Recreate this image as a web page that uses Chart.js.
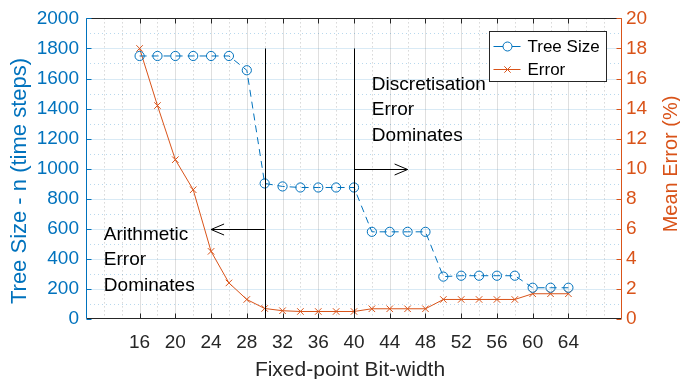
<!doctype html>
<html>
<head>
<meta charset="utf-8">
<title>Tree Size and Error vs Fixed-point Bit-width</title>
<script src="https://cdn.jsdelivr.net/npm/chart.js"></script>
<style>
  body { margin: 0; background: #fff; }
  #wrap { width: 680px; height: 379px; }
</style>
</head>
<body>
<div id="wrap"><canvas id="bitChart"></canvas></div>
<script>
// values
const bitWidths = [16, 18, 20, 22, 24, 26, 28, 30, 32, 34, 36, 38, 40, 42, 44, 46, 48, 50, 52, 54, 56, 58, 60, 62, 64];
const treeSize  = [1750, 1750, 1750, 1750, 1750, 1750, 1655, 902, 882, 875, 875, 875, 875, 580, 580, 580, 580, 282, 288, 288, 288, 288, 208, 208, 208];
const meanError = [18.0, 14.2, 10.6, 8.6, 4.5, 2.4, 1.3, 0.7, 0.55, 0.5, 0.5, 0.5, 0.5, 0.68, 0.68, 0.68, 0.68, 1.3, 1.3, 1.3, 1.3, 1.3, 1.68, 1.68, 1.68];
const xTickLabels = [16, 20, 24, 28, 32, 36, 40, 44, 48, 52, 56, 60, 64];

// annotation: divider lines, arrows and notes (x in bits, y in tree size units)
const dividerBits = [30, 40];
const dividerTop = 1800;
const arrowFrom = [30, 40];
const arrowTo = [24, 46];
const arrowLevel = [600, 1000];
const noteLines = [['Arithmetic', 'Error', 'Dominates'], ['Discretisation', 'Error', 'Dominates']];
const noteBit = [12, 42];
const noteLevel = [400, 1400];

const BLUE = '#0072BD';
const ORANGE = '#D95319';
const INK = '#262626';
const FONT = '"Liberation Sans", Arial, Helvetica, sans-serif';

function pts(ys) {
    return bitWidths.map((b, i) => ({ x: b, y: ys[i] }));
}

// grid, box, inward ticks, titles, notes and legend, MATLAB style
const matlabLook = {
    id: 'matlabLook',
    beforeDatasetsDraw(chart) {
        const { ctx, chartArea: a, scales } = chart;
        const x = scales.x, y = scales.y;
        ctx.save();
        ctx.lineWidth = 1;
        // minor grid, dotted
        ctx.setLineDash([1, 3]);
        ctx.strokeStyle = 'rgba(38,38,38,0.28)';
        for (let b = 12; b <= 68; b += 2) {
            if (xTickLabels.includes(b)) continue;
            const px = Math.round(x.getPixelForValue(b)) + 0.5;
            ctx.beginPath(); ctx.moveTo(px, a.top); ctx.lineTo(px, a.bottom); ctx.stroke();
        }
        ctx.strokeStyle = 'rgba(0,114,189,0.28)';
        for (let v = 100; v < 2000; v += 200) {
            const py = Math.round(y.getPixelForValue(v)) + 0.5;
            ctx.beginPath(); ctx.moveTo(a.left, py); ctx.lineTo(a.right, py); ctx.stroke();
        }
        // major grid
        ctx.setLineDash([]);
        ctx.strokeStyle = 'rgba(38,38,38,0.15)';
        xTickLabels.forEach(b => {
            const px = Math.round(x.getPixelForValue(b)) + 0.5;
            ctx.beginPath(); ctx.moveTo(px, a.top); ctx.lineTo(px, a.bottom); ctx.stroke();
        });
        ctx.strokeStyle = 'rgba(0,114,189,0.15)';
        for (let v = 200; v < 2000; v += 200) {
            const py = Math.round(y.getPixelForValue(v)) + 0.5;
            ctx.beginPath(); ctx.moveTo(a.left, py); ctx.lineTo(a.right, py); ctx.stroke();
        }
        ctx.restore();
    },
    afterDatasetsDraw(chart) {
        const { ctx, scales } = chart;
        const x = scales.x, y = scales.y;
        ctx.save();
        ctx.strokeStyle = '#000';
        ctx.lineWidth = 1;
        dividerBits.forEach(b => {
            const px = Math.round(x.getPixelForValue(b)) + 0.5;
            ctx.beginPath();
            ctx.moveTo(px, y.getPixelForValue(0));
            ctx.lineTo(px, y.getPixelForValue(dividerTop));
            ctx.stroke();
        });
        arrowFrom.forEach((b, i) => {
            const x0 = x.getPixelForValue(b), x1 = x.getPixelForValue(arrowTo[i]);
            const py = Math.round(y.getPixelForValue(arrowLevel[i])) + 0.5;
            const dir = x1 > x0 ? 1 : -1;
            ctx.beginPath();
            ctx.moveTo(x0, py); ctx.lineTo(x1, py);
            ctx.moveTo(x1 - dir * 13, py - 5.5); ctx.lineTo(x1, py); ctx.lineTo(x1 - dir * 13, py + 5.5);
            ctx.stroke();
        });
        ctx.fillStyle = '#000';
        ctx.font = '19px ' + FONT;
        ctx.textBaseline = 'alphabetic';
        ctx.textAlign = 'left';
        noteLines.forEach((lines, i) => {
            const px = x.getPixelForValue(noteBit[i]);
            const mid = y.getPixelForValue(noteLevel[i]);
            lines.forEach((t, k) => ctx.fillText(t, px, mid + 6.5 + (k - 1) * 25.5));
        });
        ctx.restore();
    },
    afterDraw(chart) {
        const { ctx, chartArea: a, scales } = chart;
        const x = scales.x, y = scales.y, y2 = scales.y2;
        const L = Math.round(a.left) + 0.5, R = Math.round(a.right) - 0.5;
        const T = Math.round(a.top) + 0.5, B = Math.round(a.bottom) - 0.5;
        ctx.save();
        ctx.lineWidth = 1;
        // box
        ctx.strokeStyle = INK;
        ctx.beginPath(); ctx.moveTo(L, T); ctx.lineTo(R, T); ctx.moveTo(L, B); ctx.lineTo(R, B); ctx.stroke();
        xTickLabels.forEach(b => {
            const px = Math.round(x.getPixelForValue(b)) + 0.5;
            ctx.beginPath(); ctx.moveTo(px, T); ctx.lineTo(px, T + 5); ctx.moveTo(px, B); ctx.lineTo(px, B - 5); ctx.stroke();
        });
        ctx.strokeStyle = BLUE;
        ctx.beginPath(); ctx.moveTo(L, T); ctx.lineTo(L, B); ctx.stroke();
        for (let v = 0; v <= 2000; v += 200) {
            const py = Math.round(y.getPixelForValue(v)) + 0.5;
            ctx.beginPath(); ctx.moveTo(L, py); ctx.lineTo(L + 5, py); ctx.stroke();
        }
        ctx.strokeStyle = ORANGE;
        ctx.beginPath(); ctx.moveTo(R, T); ctx.lineTo(R, B); ctx.stroke();
        for (let v = 0; v <= 20; v += 2) {
            const py = Math.round(y2.getPixelForValue(v)) + 0.5;
            ctx.beginPath(); ctx.moveTo(R, py); ctx.lineTo(R - 5, py); ctx.stroke();
        }
        // axis titles
        ctx.textAlign = 'center';
        ctx.textBaseline = 'alphabetic';
        ctx.fillStyle = INK;
        ctx.font = '21px ' + FONT;
        ctx.fillText('Fixed-point Bit-width', 350, 376);
        ctx.fillStyle = BLUE;
        ctx.font = '22px ' + FONT;
        ctx.save(); ctx.translate(26, 181); ctx.rotate(-Math.PI / 2); ctx.fillText('Tree Size - n (time steps)', 0, 0); ctx.restore();
        ctx.fillStyle = ORANGE;
        ctx.font = '20px ' + FONT;
        ctx.save(); ctx.translate(677, 164); ctx.rotate(-Math.PI / 2); ctx.fillText('Mean Error (%)', 0, 0); ctx.restore();
        // legend
        const bx = Math.round(a.right) - 15.5, by = Math.round(a.top) + 13.5;
        const bw = 117, bh = 50;
        ctx.fillStyle = '#fff';
        ctx.fillRect(bx - bw, by, bw, bh);
        ctx.strokeStyle = INK;
        ctx.strokeRect(bx - bw, by, bw, bh);
        const rows = [
            { label: 'Tree Size', color: BLUE, style: 'circle' },
            { label: 'Error', color: ORANGE, style: 'crossRot' }
        ];
        ctx.font = '17px ' + FONT;
        ctx.textAlign = 'left';
        ctx.textBaseline = 'middle';
        rows.forEach((r, i) => {
            const cy = Math.round(by + 14.5 + i * 22.5) + 0.5;
            const x0 = bx - bw + 4;
            ctx.strokeStyle = r.color;
            ctx.beginPath(); ctx.moveTo(x0, cy); ctx.lineTo(x0 + 27, cy); ctx.stroke();
            Chart.helpers.drawPoint(ctx, { pointStyle: r.style, radius: 4.5, borderWidth: 1 }, x0 + 14, cy);
            ctx.fillStyle = '#000';
            ctx.fillText(r.label, x0 + 34, cy + 1);
        });
        ctx.restore();
    }
};

const ctx = document.getElementById('bitChart').getContext('2d');

new Chart(ctx, {
    type: 'line',
    data: {
        datasets: [{
            label: 'Tree Size',
            data: pts(treeSize),
            yAxisID: 'y',
            borderColor: BLUE,
            borderWidth: 1,
            borderDash: [7, 5],
            pointStyle: 'circle',
            pointRadius: 4.6,
            pointBorderWidth: 1,
            pointBorderColor: BLUE,
            pointBackgroundColor: 'rgba(0,0,0,0)',
            tension: 0
        }, {
            label: 'Error',
            data: pts(meanError),
            yAxisID: 'y2',
            borderColor: ORANGE,
            borderWidth: 1,
            pointStyle: 'crossRot',
            pointRadius: 4.6,
            pointBorderWidth: 1,
            pointBorderColor: ORANGE,
            tension: 0
        }]
    },
    options: {
        responsive: true,
        maintainAspectRatio: false,
        animation: false,
        layout: { padding: { top: 16, left: 0, right: 0, bottom: 0 } },
        plugins: { legend: { display: false }, tooltip: { enabled: false } },
        scales: {
            x: {
                type: 'linear',
                min: 10,
                max: 70,
                afterBuildTicks: s => { s.ticks = xTickLabels.map(v => ({ value: v })); },
                afterFit: s => { s.height = 60; },
                grid: { display: false, drawTicks: false },
                border: { display: false },
                ticks: { color: INK, padding: 12, maxRotation: 0, autoSkip: false, callback: v => String(v), font: { family: FONT, size: 19 } }
            },
            y: {
                position: 'left',
                min: 0,
                max: 2000,
                afterFit: s => { s.width = 86; },
                grid: { display: false, drawTicks: false },
                border: { display: false },
                ticks: { stepSize: 200, color: BLUE, padding: 7, callback: v => String(v), font: { family: FONT, size: 19 } }
            },
            y2: {
                position: 'right',
                min: 0,
                max: 20,
                afterFit: s => { s.width = 58; },
                grid: { display: false, drawTicks: false },
                border: { display: false },
                ticks: { stepSize: 2, color: ORANGE, padding: 4, callback: v => String(v), font: { family: FONT, size: 19 } }
            }
        }
    },
    plugins: [matlabLook]
});
</script>
</body>
</html>
